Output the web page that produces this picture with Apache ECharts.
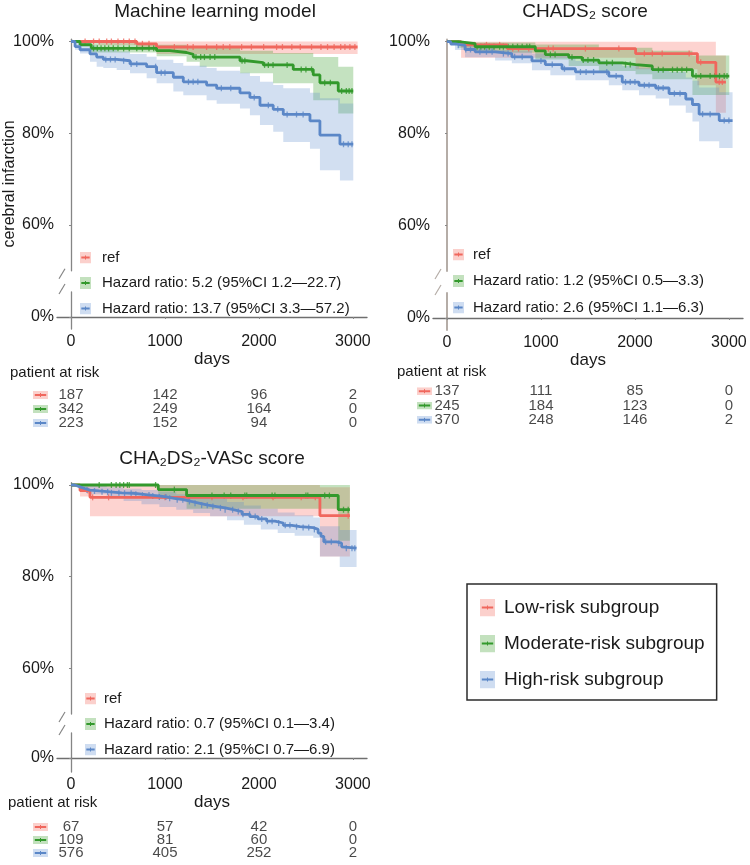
<!DOCTYPE html>
<html><head><meta charset="utf-8">
<script src="https://cdn.jsdelivr.net/npm/echarts@6/dist/echarts.min.js"></script>
<style>html,body{margin:0;padding:0;background:#fff}#c{width:750px;height:865px}</style>
</head><body><div id="c"></div>
<script>
// ---------------- data ----------------
const panelTitles = ['Machine learning model', 'CHADS\u2082 score', 'CHA\u2082DS\u2082-VASc score'];
const groupNames = ['Low-risk subgroup', 'Moderate-risk subgroup', 'High-risk subgroup'];
const yTickValues = [60, 80, 100];
const yZeroTick = [0];
const xTickValues = [0, 1000, 2000, 3000];
const riskTimes = [0, 1000, 2000, 3000];
const riskRows = ['low', 'moderate', 'high'];

const mlLegend = ['ref', 'Hazard ratio: 5.2 (95%CI 1.2\u201422.7)', 'Hazard ratio: 13.7 (95%CI 3.3\u201457.2)'];
const chadsLegend = ['ref', 'Hazard ratio: 1.2 (95%CI 0.5\u20143.3)', 'Hazard ratio: 2.6 (95%CI 1.1\u20146.3)'];
const vascLegend = ['ref', 'Hazard ratio: 0.7 (95%CI 0.1\u20143.4)', 'Hazard ratio: 2.1 (95%CI 0.7\u20146.9)'];

const mlRiskLow = [187, 142, 96, 2];
const mlRiskMod = [342, 249, 164, 0];
const mlRiskHigh = [223, 152, 94, 0];
const chadsRiskLow = [137, 111, 85, 0];
const chadsRiskMod = [245, 184, 123, 0];
const chadsRiskHigh = [370, 248, 146, 2];
const vascRiskLow = [67, 57, 42, 0];
const vascRiskMod = [109, 81, 60, 0];
const vascRiskHigh = [576, 405, 252, 2];

// Kaplan-Meier step curves [day, survival %]
const mlLowLine = [[0,100],[700,99.5],[910,98.8],[3050,98.8]];
const mlModLine = [[0,100],[96,99.3],[215,98.5],[911,98.0],[1053,97.6],[1230,97.2],[1301,96.6],[1798,95.8],[1869,95.4],[2046,94.9],[2365,93.9],[2578,92.7],[2649,91.0],[2844,89.2],[3004,89.2]];
const mlHighLine = [[0,100],[43,98.9],[96,98.2],[202,97.3],[273,96.6],[344,96.1],[486,95.8],[628,95.1],[805,94.5],[911,93.2],[1089,92.2],[1195,91.2],[1443,90.5],[1550,89.8],[1798,88.8],[1904,87.8],[2011,86.1],[2152,85.2],[2259,84.1],[2543,82.7],[2649,79.6],[2862,77.6],[3004,77.6]];
const chadsLowLine = [[0,100],[150,99.3],[640,98.5],[2007,97.4],[2665,95.5],[2861,91.2],[2968,91.2]];
const chadsModLine = [[0,100],[121,99.6],[299,98.9],[940,98.0],[1046,97.2],[1295,96.6],[1438,96.0],[1616,95.4],[1865,95.0],[2007,94.7],[2185,93.9],[2612,92.5],[3004,92.5]];
const chadsHighLine = [[0,100],[40,99.5],[85,99.2],[192,98.3],[299,97.8],[512,97.4],[690,96.7],[904,95.8],[1046,95.0],[1224,94.1],[1367,93.4],[1722,92.5],[1865,91.2],[2043,90.5],[2221,89.9],[2363,88.7],[2541,87.5],[2612,86.3],[2683,84.2],[2897,82.8],[3039,82.8]];
const vascLowLine = [[0,100],[96,98.8],[202,97.3],[2649,93.3],[2968,93.3]];
const vascModLine = [[0,100],[929,99.0],[1230,97.7],[2844,94.6],[2968,94.6]];
const vascHighLine = [[0,100],[40,99.6],[96,99.2],[150,98.9],[202,98.7],[300,98.5],[415,98.3],[540,98.2],[663,98.0],[750,97.8],[840,97.6],[930,97.4],[1014,97.1],[1100,96.8],[1195,96.4],[1280,96.0],[1372,95.6],[1460,95.3],[1550,95.0],[1640,94.6],[1727,94.2],[1820,93.6],[1904,93.1],[1990,92.6],[2082,92.1],[2170,91.7],[2259,91.2],[2350,90.9],[2436,90.7],[2578,90.3],[2630,89.5],[2660,88.8],[2690,87.6],[2826,87.3],[2880,86.5],[2900,86.2],[3039,86.2]];

// 95% CI bands [day, lower %, upper %]
const mlLowBand = [[0,100,100],[300,99.3,100],[700,98.3,100],[910,97.3,100],[3050,97.3,100]];
const mlModBand = [[0,100,100],[96,98.8,100],[215,97.6,99.6],[911,96.8,99.3],[1230,95.6,99.0],[1370,94.5,98.8],[1800,93.1,98.0],[2150,90.9,97.5],[2578,87.2,96.6],[2844,84.3,94.5],[3004,84.3,94.5]];
const mlHighBand = [[0,100,100],[43,98.2,100],[96,97.4,99.6],[202,95.6,99.1],[273,94.5,98.5],[344,94.2,98.2],[486,93.8,97.8],[628,93.1,97.3],[805,92.0,96.7],[911,90.9,96.0],[1089,89.1,95.3],[1195,88.3,94.7],[1443,87.2,94.2],[1550,86.4,93.6],[1798,85.4,93.2],[1904,83.9,92.5],[2011,81.8,91.2],[2152,80.3,90.5],[2259,78.1,89.8],[2543,76.6,88.8],[2649,71.9,87.6],[2862,69.7,86.5],[3004,69.7,86.5]];
const chadsLowBand = [[0,100,100],[150,96.5,100],[2007,94.0,100],[2665,90.5,100],[2861,84.5,97.0],[2968,84.5,97.0]];
const chadsModBand = [[0,100,100],[121,98.7,100],[299,97.6,99.8],[940,96.1,99.4],[1295,94.7,99.4],[1616,93.6,98.7],[2007,92.9,98.7],[2185,91.8,98.0],[2612,88.4,97.0],[3004,88.4,97.0]];
const chadsHighBand = [[0,100,100],[85,98.2,100],[192,96.6,99.1],[512,95.9,98.2],[690,95.3,98.0],[904,93.8,97.4],[1100,92.7,96.9],[1367,91.6,95.8],[1722,90.5,95.5],[1865,89.4,94.7],[2043,88.3,94.2],[2221,87.6,93.8],[2363,86.1,93.4],[2541,84.5,92.2],[2612,82.6,91.5],[2683,78.3,90.0],[2897,76.8,89.0],[3039,76.8,89.0]];
const vascLowBand = [[0,100,100],[96,97.5,100],[202,93.2,100],[2649,84.4,99.5],[2968,84.4,99.5]];
const vascModBand = [[0,100,100],[929,97.0,100],[1230,94.8,100],[2844,87.8,100],[2968,87.8,100]];
const vascHighBand = [[0,100,100],[96,99.0,100],[202,98.0,99.8],[380,97.1,99.5],[560,96.5,99.2],[750,95.8,98.9],[940,95.2,98.5],[1120,94.6,98.0],[1300,93.9,97.5],[1480,93.2,97.0],[1660,92.3,96.3],[1840,91.3,95.5],[2020,90.3,94.8],[2200,89.5,94.0],[2380,88.9,93.4],[2578,88.5,92.9],[2649,84.4,91.0],[2860,82.1,90.2],[3039,82.1,90.2]];

// censoring times (days)
const mlLowCens = [150,240,300,380,430,500,560,620,681,760,830,1100,1240,1300,1443,1550,1620,1690,1816,1920,2050,2188,2250,2350,2440,2560,2660,2730,2800,2870,2915,2968,3021];
const mlModCens = [240,280,320,360,400,450,500,560,620,700,760,830,880,1330,1380,1420,1480,1530,1820,1850,2060,2100,2150,2300,2450,2500,2560,2700,2760,2880,2930,2960,2990];
const mlHighCens = [370,420,470,560,640,700,900,960,1000,1250,1300,1350,1600,1700,1950,2100,2200,2300,2400,2470,2900,2950,2990];
const chadsLowCens = [300,420,560,700,761,870,940,1080,1130,1473,1829,2100,2185,2290,2577,2700,2897,2930];
const chadsModCens = [320,360,400,450,500,560,600,650,700,750,800,850,880,1100,1150,1330,1450,1500,1560,1700,1760,1900,1950,2250,2300,2400,2450,2500,2550,2650,2700,2800,2850,2900,2950,2980];
const chadsHighCens = [120,200,250,350,420,480,600,650,720,800,1000,1120,1250,1420,1480,1560,1700,1800,1900,1950,2000,2100,2150,2250,2300,2420,2480,2720,2800,2950,3000];
const vascLowCens = [180,230,400,1000,1250,1500,1830,2150,2450,2600,2950];
const vascModCens = [300,430,480,520,560,600,620,900,1100,1500,1630,1700,1850,1870,2140,2170,2500,2520,2700,2750,2900,2950];
const vascHighCens = [110,170,250,330,390,430,510,570,640,690,760,830,870,940,1010,1050,1130,1190,1260,1320,1390,1450,1510,1590,1640,1720,1780,1830,1900,1960,2030,2090,2140,2210,2280,2330,2400,2470,2530,2590,2710,2770,2850,2930,2990,3020];

// ---------------- styles / layout ----------------
const FONT = '"Liberation Sans", Arial, Helvetica, sans-serif';
const lineColors = ['#F0675D', '#33992C', '#5B87C7'];
const bandColors = ['rgba(248,118,109,0.32)', 'rgba(58,160,46,0.30)', 'rgba(94,139,205,0.28)'];
const iconFills = ['#FBD0CC', '#C3E1BE', '#CFDDF1'];
const X_MIN = -149, X_MAX = 3150, PX_PER_PCT = 4.585;

const panels = [
  {legend: mlLegend, lines: [mlLowLine, mlModLine, mlHighLine], bands: [mlLowBand, mlModBand, mlHighBand],
   cens: [mlLowCens, mlModCens, mlHighCens], risk: [mlRiskLow, mlRiskMod, mlRiskHigh]},
  {legend: chadsLegend, lines: [chadsLowLine, chadsModLine, chadsHighLine], bands: [chadsLowBand, chadsModBand, chadsHighBand],
   cens: [chadsLowCens, chadsModCens, chadsHighCens], risk: [chadsRiskLow, chadsRiskMod, chadsRiskHigh]},
  {legend: vascLegend, lines: [vascLowLine, vascModLine, vascHighLine], bands: [vascLowBand, vascModBand, vascHighBand],
   cens: [vascLowCens, vascModCens, vascHighCens], risk: [vascRiskLow, vascRiskMod, vascRiskHigh]}
];
const layout = [
  {left:57, upperTop:39.2, upperH:231.6, zeroY:317, axisY:329, lowerTop:292, riskTop:388, riskH:42,
   axisColor:'#858585', axisW:1.3, legLeft:80, legTop:250, legGap:10.5, legPad:6, riskMargin:9,
   titleX:215, titleY:2, parX:10, parY:373},
  {left:433, upperTop:39.4, upperH:231.6, zeroY:318, axisY:330, lowerTop:293, riskTop:384, riskH:43,
   axisColor:'#b5ada7', axisW:2, legLeft:453, legTop:247, legGap:11.5, legPad:4, riskMargin:1,
   titleX:585, titleY:2, parX:397, parY:371.5},
  {left:57, upperTop:482.7, upperH:231.3, zeroY:758, axisY:772, lowerTop:733, riskTop:820.5, riskH:39,
   axisColor:'#858585', axisW:1.3, legLeft:85, legTop:691, legGap:10.5, legPad:3, riskMargin:9,
   titleX:212, titleY:449.5, parX:8, parY:802.7}
];

function iconUrl(w, h, fill, stroke) {
  const svg = '<svg xmlns="http://www.w3.org/2000/svg" width="' + w + '" height="' + h + '">' +
    '<rect width="' + w + '" height="' + h + '" fill="' + fill + '"/>' +
    '<line x1="' + (w * 0.12) + '" y1="' + (h / 2) + '" x2="' + (w * 0.88) + '" y2="' + (h / 2) + '" stroke="' + stroke + '" stroke-width="2"/>' +
    '<line x1="' + (w / 2) + '" y1="' + (h / 2 - 2) + '" x2="' + (w / 2) + '" y2="' + (h / 2 + 2) + '" stroke="' + stroke + '" stroke-width="1"/></svg>';
  return 'data:image/svg+xml;charset=utf-8,' + encodeURIComponent(svg);
}
function stepValue(line, t) {
  let v = line[0][1];
  for (const p of line) { if (p[0] <= t) v = p[1]; else break; }
  return v;
}
function bandRenderer(band, fill) {
  return function (params, api) {
    if (params.dataIndex !== 0) return null;
    const pts = [];
    for (let i = 0; i < band.length - 1; i++) {
      pts.push(api.coord([band[i][0], band[i][2]]));
      pts.push(api.coord([band[i + 1][0], band[i][2]]));
    }
    for (let i = band.length - 2; i >= 0; i--) {
      pts.push(api.coord([band[i + 1][0], band[i][1]]));
      pts.push(api.coord([band[i][0], band[i][1]]));
    }
    return {type: 'polygon', shape: {points: pts}, style: {fill: fill}};
  };
}

const grid = [], xAxis = [], yAxis = [], series = [], legend = [], title = [], graphic = [];
panels.forEach(function (P, p) {
  const L = layout[p];
  const gU = 3 * p, gL = 3 * p + 1, gR = 3 * p + 2;
  grid.push({left: L.left, width: 310, top: L.upperTop, height: L.upperH});
  grid.push({left: L.left, width: 310, top: L.lowerTop, height: L.axisY - L.lowerTop});
  grid.push({left: L.left, width: 310, top: L.riskTop, height: L.riskH});
  const axLine = {show: true, lineStyle: {color: L.axisColor, width: L.axisW}};
  // upper grid axes
  xAxis.push({gridIndex: gU, type: 'value', min: X_MIN, max: X_MAX, show: false});
  yAxis.push({gridIndex: gU, type: 'value', min: 50, max: 100.5, offset: -5,
    axisLine: axLine, splitLine: {show: false},
    axisTick: {show: true, length: 2, customValues: yTickValues, lineStyle: {color: '#888'}},
    axisLabel: {customValues: yTickValues, formatter: '{value}%', fontSize: 16, color: '#1a1a1a', margin: 8, fontFamily: FONT}});
  // lower grid axes
  xAxis.push({gridIndex: gL, type: 'value', min: X_MIN, max: X_MAX,
    axisLine: {show: true, lineStyle: {color: '#6f6f6f', width: 1.3}}, splitLine: {show: false},
    axisTick: {show: true, length: 2, customValues: xTickValues, lineStyle: {color: '#888'}},
    axisLabel: {customValues: xTickValues, formatter: function (v) { return String(v); },
      fontSize: 16, color: '#1a1a1a', margin: 5, fontFamily: FONT},
    name: 'days', nameLocation: 'middle', nameGap: 20,
    nameTextStyle: {fontSize: 17, color: '#1a1a1a', fontFamily: FONT, verticalAlign: 'top'}});
  yAxis.push({gridIndex: gL, type: 'value', min: -(L.axisY - L.zeroY) / PX_PER_PCT, max: (L.zeroY - L.lowerTop) / PX_PER_PCT,
    offset: -5, axisLine: axLine, splitLine: {show: false},
    axisTick: {show: true, length: 2, customValues: yZeroTick, lineStyle: {color: '#888'}},
    axisLabel: {customValues: yZeroTick, formatter: '{value}%', fontSize: 16, color: '#1a1a1a', margin: 8, fontFamily: FONT}});
  // risk table axes
  xAxis.push({gridIndex: gR, type: 'value', min: X_MIN, max: X_MAX, show: false});
  const rich = {};
  riskRows.forEach(function (r, i) { rich['r' + i] = {width: 15, height: 8, backgroundColor: {image: iconUrl(15, 8, iconFills[i], lineColors[i])}}; });
  yAxis.push({gridIndex: gR, type: 'category', data: riskRows, inverse: true,
    axisLine: {show: false}, axisTick: {show: false}, splitLine: {show: false},
    axisLabel: {interval: 0, hideOverlap: false, margin: L.riskMargin,
      formatter: function (v, i) { return '{r' + i + '|}'; }, rich: rich}});

  // bands, lines, censor marks
  for (let g = 0; g < 3; g++) {
    series.push({type: 'custom', name: groupNames[g], xAxisIndex: gU, yAxisIndex: gU, data: P.bands[g],
      encode: {x: 0, y: [1, 2]}, silent: true, itemStyle: {color: bandColors[g]},
      renderItem: bandRenderer(P.bands[g], bandColors[g])});
    series.push({type: 'line', name: P.legend[g], xAxisIndex: gU, yAxisIndex: gU, data: P.lines[g], step: 'end',
      symbol: 'none', silent: true, lineStyle: {width: 2.8, color: lineColors[g]}, itemStyle: {color: lineColors[g]}});
    series.push({type: 'scatter', xAxisIndex: gU, yAxisIndex: gU, silent: true,
      data: P.cens[g].map(function (t) { return [t, stepValue(P.lines[g], t)]; }),
      symbol: 'rect', symbolSize: [1.3, 6], itemStyle: {color: lineColors[g]}});
    series.push({type: 'scatter', xAxisIndex: gR, yAxisIndex: gR, silent: true,
      data: riskTimes.map(function (t, j) { return [t, riskRows[g], P.risk[g][j]]; }),
      symbolSize: 1, itemStyle: {color: 'rgba(0,0,0,0)'},
      label: {show: true, position: 'inside', formatter: function (d) { return d.value[2]; },
        fontSize: 15, color: '#1a1a1a', fontFamily: FONT}});
  }
  legend.push({orient: 'vertical', left: L.legLeft, top: L.legTop, padding: 0, itemGap: L.legGap,
    itemWidth: 11, itemHeight: 12, selectedMode: false,
    textStyle: {fontSize: 15, color: '#1a1a1a', fontFamily: FONT, padding: [0, 0, 0, L.legPad]},
    data: P.legend.map(function (n, g) { return {name: n, icon: 'image://' + iconUrl(11, 12, iconFills[g], lineColors[g])}; })});
  title.push({text: panelTitles[p], left: L.titleX, top: L.titleY, textAlign: 'center', padding: 0,
    textStyle: {fontSize: 19, fontWeight: 'normal', color: '#1a1a1a', fontFamily: FONT}});
  graphic.push({type: 'text', x: L.parX, y: L.parY, silent: true,
    style: {text: 'patient at risk', fontSize: 15, fontFamily: FONT, fill: '#1a1a1a',
      align: 'left', verticalAlign: 'middle', textAlign: 'left', textVerticalAlign: 'middle'}});
  // axis break slashes
  const bx = L.left + 5, yb = L.upperTop + L.upperH + 3, yt = L.lowerTop - 3;
  [yb, yt].forEach(function (yy) {
    graphic.push({type: 'line', silent: true, shape: {x1: bx - 3, y1: yy + 5, x2: bx + 3, y2: yy - 5},
      style: {stroke: L.axisColor, lineWidth: 1.2}});
  });
});
graphic.push({type: 'text', x: 10, y: 184, rotation: Math.PI / 2, silent: true,
  style: {text: 'cerebral infarction', fontSize: 16, fontFamily: FONT, fill: '#1a1a1a',
    align: 'center', verticalAlign: 'middle', textAlign: 'center', textVerticalAlign: 'middle'}});

legend.push({orient: 'vertical', left: 467, top: 584, padding: [14, 12, 11, 13], itemGap: 17,
  itemWidth: 15, itemHeight: 18, selectedMode: false, borderColor: '#2b2b2b', borderWidth: 1.5,
  textStyle: {fontSize: 19, color: '#1a1a1a', fontFamily: FONT, padding: [0, 0, 0, 4]},
  data: groupNames.map(function (n, g) { return {name: n, icon: 'image://' + iconUrl(15, 18, iconFills[g], lineColors[g])}; })});

const chart = echarts.init(document.getElementById('c'), null, {renderer: 'canvas'});
chart.setOption({
  animation: false, backgroundColor: '#ffffff',
  textStyle: {fontFamily: FONT},
  title: title, grid: grid, xAxis: xAxis, yAxis: yAxis, legend: legend, series: series, graphic: graphic
});
</script></body></html>
